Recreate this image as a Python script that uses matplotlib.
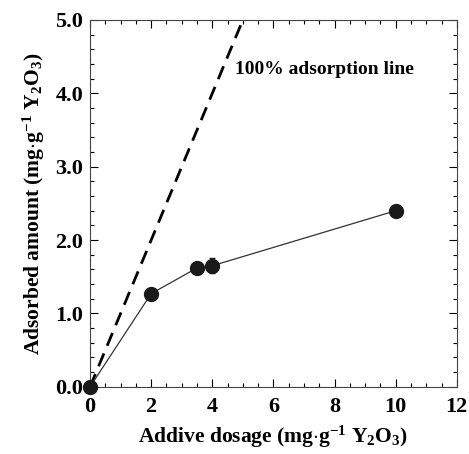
import matplotlib
matplotlib.use('Agg')
import matplotlib.pyplot as plt
from matplotlib.ticker import MultipleLocator, FormatStrFormatter

# data
dosage = [0, 2, 3.5, 4, 10]
adsorbed = [0.0, 1.27, 1.62, 1.65, 2.40]
adsorbed_err = [0, 0, 0, 0.10, 0]
line_x = [0, 5]
line_y = [0, 5]

plt.rcParams['font.family'] = ['Liberation Serif', 'DejaVu Serif']
plt.rcParams['font.weight'] = 'bold'
plt.rcParams['mathtext.fontset'] = 'custom'
plt.rcParams['mathtext.rm'] = 'Liberation Serif:bold'
plt.rcParams['mathtext.bf'] = 'Liberation Serif:bold'
plt.rcParams['mathtext.it'] = 'Liberation Serif:bold:italic'

fig = plt.figure(figsize=(4.69, 4.54), dpi=100)
ax = fig.add_axes([0.192, 0.148, 0.782, 0.808])

ax.plot(line_x, line_y, color='black', lw=2, dashes=(5, 3))
ax.plot(dosage, adsorbed, color='#333333', lw=0.9)
ax.errorbar(dosage, adsorbed, yerr=adsorbed_err, fmt='o', color='#1a1a1a',
            ms=10, capsize=2.5, elinewidth=1, clip_on=False, zorder=5)

ax.text(4.75, 4.32, '100% adsorption line', fontsize=14, fontweight='bold', va='center')

ax.set_xlim(0, 12)
ax.set_ylim(0, 5)
ax.xaxis.set_major_locator(MultipleLocator(2))
ax.xaxis.set_minor_locator(MultipleLocator(0.5))
ax.yaxis.set_major_locator(MultipleLocator(1))
ax.yaxis.set_minor_locator(MultipleLocator(0.2))
ax.yaxis.set_major_formatter(FormatStrFormatter('%.1f'))
ax.tick_params(which='both', direction='in', top=True, right=True, labelsize=16, width=0.8)
ax.tick_params(which='major', length=6, pad=7)
ax.tick_params(which='minor', length=3)
ax.tick_params(axis='y', which='major', pad=5)
for s in ax.spines.values():
    s.set_linewidth(0.8)
    s.set_color('#444444')

ax.set_xlabel(r'Addive dosage (mg$\cdot$g$^{\mathrm{-1}}$ Y$_{\mathrm{2}}$O$_{\mathrm{3}}$)',
              fontsize=15.5, fontweight='bold', labelpad=5)
ax.set_ylabel(r'Adsorbed amount (mg$\cdot$g$^{\mathrm{-1}}$ Y$_{\mathrm{2}}$O$_{\mathrm{3}}$)',
              fontsize=15.5, fontweight='bold', labelpad=6)

fig.savefig('out.png', dpi=100)
